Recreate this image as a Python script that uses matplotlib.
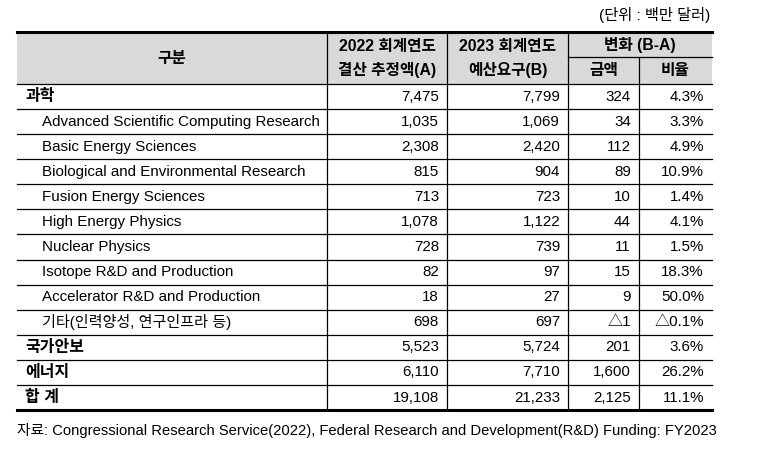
import matplotlib.pyplot as plt

plt.rcParams['font.family'] = ['Liberation Sans', 'Noto Sans CJK KR']

# 표 데이터
labels = ['과학',
          'Advanced Scientific Computing Research',
          'Basic Energy Sciences',
          'Biological and Environmental Research',
          'Fusion Energy Sciences',
          'High Energy Physics',
          'Nuclear Physics',
          'Isotope R&D and Production',
          'Accelerator R&D and Production',
          '기타(인력양성, 연구인프라 등)',
          '국가안보',
          '에너지',
          '합 계']
is_sub = [False, True, True, True, True, True, True, True, True, True, False, False, False]
fy2022 = ['7,475', '1,035', '2,308', '815', '713', '1,078', '728', '82', '18', '698',
          '5,523', '6,110', '19,108']
fy2023 = ['7,799', '1,069', '2,420', '904', '723', '1,122', '739', '97', '27', '697',
          '5,724', '7,710', '21,233']
diff_amt = ['324', '34', '112', '89', '10', '44', '11', '15', '9', '△1',
            '201', '1,600', '2,125']
diff_pct = ['4.3%', '3.3%', '4.9%', '10.9%', '1.4%', '4.1%', '1.5%', '18.3%', '50.0%', '△0.1%',
            '3.6%', '26.2%', '11.1%']

# 레이아웃 (픽셀)
W, H = 772, 463
col_x = [17, 327, 447, 568, 639, 712]
top, head_mid, head_bot = 32, 57, 84
row_h = 25.08
bottom = head_bot + row_h * len(labels)

fig = plt.figure(figsize=(W / 100, H / 100), dpi=100)
ax = fig.add_axes([0, 0, 1, 1])
ax.set_xlim(0, W)
ax.set_ylim(H, 0)
ax.axis('off')

# 헤더 배경
ax.fill_between([col_x[0], col_x[-1]], top, head_bot, color='#d9d9d9', lw=0)

fs = 10.9
# 가로선
ax.plot([col_x[0], col_x[-1]], [top, top], color='black', lw=2.2)
ax.plot([col_x[0], col_x[-1]], [bottom, bottom], color='black', lw=2.2)
ax.plot([col_x[3], col_x[-1]], [head_mid, head_mid], color='black', lw=0.9)
for i in range(len(labels)):
    y = head_bot + row_h * i
    ax.plot([col_x[0], col_x[-1]], [y, y], color='black', lw=0.9)
# 세로선
for x in col_x[1:-1]:
    y0 = head_mid if x == col_x[4] else top
    ax.plot([x, x], [y0, bottom], color='black', lw=0.9)

# 헤더 텍스트
hk = dict(ha='center', va='center', fontsize=11.3, fontweight='bold')
ax.text((col_x[0] + col_x[1]) / 2, (top + head_bot) / 2, '구분', **hk)
ax.text((col_x[1] + col_x[2]) / 2, 46, '2022 회계연도', **hk)
ax.text((col_x[1] + col_x[2]) / 2, 70, '결산 추정액(A)', **hk)
ax.text((col_x[2] + col_x[3]) / 2, 46, '2023 회계연도', **hk)
ax.text((col_x[2] + col_x[3]) / 2, 70, '예산요구(B)', **hk)
ax.text((col_x[3] + col_x[5]) / 2, 45, '변화 (B-A)', **hk)
ax.text((col_x[3] + col_x[4]) / 2, 71, '금액', **hk)
ax.text((col_x[4] + col_x[5]) / 2, 71, '비율', **hk)

# 본문
pad = 8
for i, lab in enumerate(labels):
    yc = head_bot + row_h * (i + 0.5)
    if is_sub[i]:
        ax.text(42, yc, lab, ha='left', va='center', fontsize=fs)
    else:
        ax.text(25, yc, lab, ha='left', va='center', fontsize=11.5, fontweight='bold')
    for j, vals in enumerate([fy2022, fy2023, diff_amt, diff_pct]):
        ax.text(col_x[j + 2] - pad, yc, vals[i], ha='right', va='center', fontsize=fs)

ax.text(710, 15, '(단위 : 백만 달러)', ha='right', va='center', fontsize=11)
ax.text(17, 431, '자료: Congressional Research Service(2022), Federal Research and Development(R&D) Funding: FY2023',
        ha='left', va='center', fontsize=10.6)

fig.savefig('out.png', dpi=100)
